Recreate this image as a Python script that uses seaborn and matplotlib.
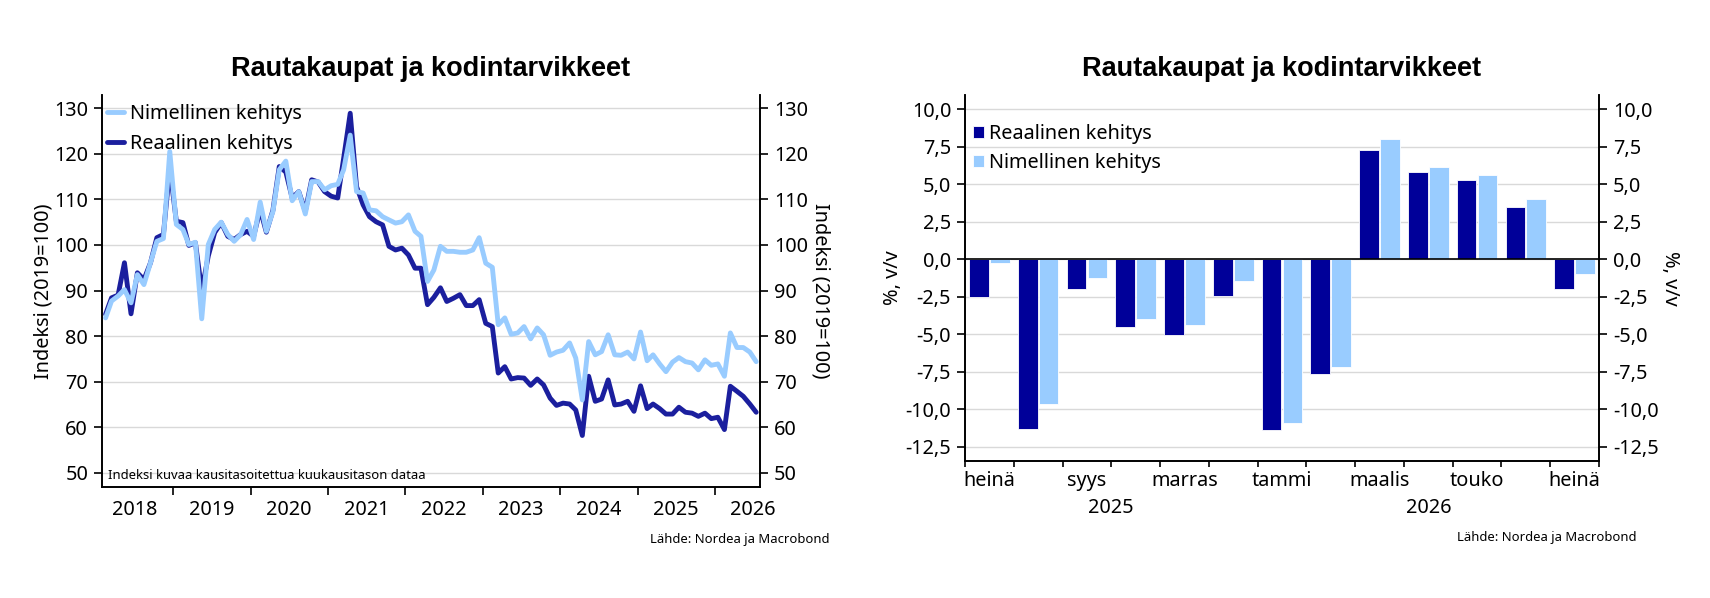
import pandas as pd
import numpy as np
import seaborn as sns
import matplotlib.pyplot as plt
import matplotlib.dates as mdates
import matplotlib.transforms as mtrans
from matplotlib.ticker import FuncFormatter

# Indeksisarjat (2019=100), helmikuu 2018 - heinäkuu 2026
nimellinen = [84.0, 87.7, 88.8, 90.2, 87.3, 93.5, 91.3, 96.1, 100.8, 101.4, 120.5,
              104.5, 103.4, 100.1, 100.6, 83.8, 100.1, 103.4, 105.0, 102.3, 100.8, 102.3, 105.6,
              101.2, 109.4, 103.0, 107.3, 116.5, 118.4, 109.7, 111.7, 106.8, 113.9, 113.9, 112.1,
              113.0, 113.3, 116.5, 124.1, 111.7, 111.4, 107.7, 107.5, 106.2, 105.5, 104.8, 105.1,
              106.6, 103.0, 101.9, 92.0, 94.5, 99.7, 98.6, 98.6, 98.4, 98.4, 98.9, 101.6,
              96.0, 95.1, 82.5, 84.0, 80.4, 80.7, 82.1, 79.4, 81.8, 80.3, 75.8, 76.5,
              76.9, 78.5, 75.2, 66.0, 78.8, 75.9, 76.6, 80.3, 75.9, 75.8, 76.5, 75.0,
              80.9, 74.6, 75.9, 73.9, 72.2, 74.3, 75.3, 74.4, 74.1, 72.6, 74.8, 73.6,
              73.9, 71.2, 80.7, 77.5, 77.5, 76.5, 74.4]
reaalinen = [84.8, 88.4, 89.0, 96.1, 84.9, 93.9, 92.4, 96.1, 101.6, 102.3, 117.0,
             105.2, 104.9, 99.9, 100.5, 90.0, 97.6, 102.7, 104.9, 101.9, 101.2, 102.3, 103.0,
             101.9, 107.8, 102.8, 107.6, 117.2, 116.0, 110.3, 111.7, 107.4, 114.3, 113.8, 111.7,
             110.7, 110.3, 119.0, 128.9, 112.8, 108.8, 106.2, 105.1, 104.4, 99.7, 98.9, 99.3,
             97.8, 94.9, 94.9, 86.9, 88.5, 90.6, 87.6, 88.3, 89.1, 86.7, 86.7, 88.0,
             82.8, 82.1, 71.9, 73.3, 70.6, 70.9, 70.8, 69.2, 70.6, 69.3, 66.4, 64.8,
             65.3, 65.1, 63.8, 58.2, 71.2, 65.7, 66.2, 70.4, 64.9, 65.1, 65.7, 63.5,
             69.1, 64.1, 65.1, 64.1, 62.9, 62.9, 64.4, 63.3, 63.1, 62.4, 63.1, 61.9,
             62.2, 59.5, 69.0, 67.9, 66.8, 65.1, 63.3]
kuukaudet = pd.date_range('2018-02-01', '2026-07-01', freq='MS') + pd.Timedelta(days=14)
vuodet = list(range(2018, 2027))

# Vuosimuutos, %, heinäkuu 2025 - heinäkuu 2026
bar_kk = ['2025-07', '2025-08', '2025-09', '2025-10', '2025-11', '2025-12', '2026-01',
          '2026-02', '2026-03', '2026-04', '2026-05', '2026-06', '2026-07']
bar_reaalinen = [-2.5, -11.3, -2.0, -4.5, -5.05, -2.45, -11.35, -7.65, 7.3, 5.8, 5.3, 3.5, -2.0]
bar_nimellinen = [-0.25, -9.65, -1.25, -3.95, -4.4, -1.45, -10.9, -7.2, 8.0, 6.15, 5.6, 4.0, -1.0]
bar_labels = ['heinä', 'syys', 'marras', 'tammi', 'maalis', 'touko', 'heinä']
bar_vuodet = ['2025', '2026']

tumma = '#1b1f9e'
tumma_bar = '#000099'
vaalea = '#99ccff'
fs = 14.3

sns.set_theme(style='white')
plt.rcParams['font.family'] = ['Noto Sans', 'DejaVu Sans']
plt.rcParams.update({'text.color': 'black', 'axes.labelcolor': 'black',
                     'xtick.color': 'black', 'ytick.color': 'black',
                     'axes.edgecolor': 'black'})

W, H = 1710, 598
fig = plt.figure(figsize=(W / 100, H / 100), dpi=100)

# ---------- vasen: indeksi ----------
ax1 = fig.add_axes([102 / W, 1 - 487 / H, 658 / W, 392 / H])
df = pd.DataFrame({'kk': kuukaudet, 'nim': nimellinen, 'rea': reaalinen})
sns.lineplot(data=df, x='kk', y='rea', color=tumma, linewidth=3.5, ax=ax1, label='Reaalinen kehitys')
sns.lineplot(data=df, x='kk', y='nim', color=vaalea, linewidth=3.5, ax=ax1, label='Nimellinen kehitys')
h, l = ax1.get_legend_handles_labels()
ax1.legend(h[::-1], l[::-1], loc='upper left', bbox_to_anchor=(0.008, 0.976), frameon=False,
           fontsize=fs, handlelength=0.85, handletextpad=0.3, labelspacing=0.5,
           borderaxespad=0, borderpad=0)

ax1.set_ylim(46.9, 132.9)
ax1.set_xlim(pd.Timestamp('2018-01-29'), pd.Timestamp('2026-08-02'))
yt = list(range(50, 131, 10))
ax1.set_yticks(yt)
ax1.grid(axis='y', color='#d9d9d9', lw=1)
ax1.set_axisbelow(True)
ax1.set_xticks(mdates.date2num([pd.Timestamp(f'{v}-01-01') for v in vuodet[1:]]))
ax1.set_xticklabels([])
ax1.set_xticks(mdates.date2num([pd.Timestamp(f'{v}-07-01') for v in vuodet]), minor=True)
ax1.set_xticklabels([str(v) for v in vuodet], minor=True)
ax1.tick_params(axis='x', which='major', bottom=True, length=6, width=1.2, direction='out')
ax1.tick_params(axis='x', which='minor', bottom=True, length=0, pad=9.5, labelsize=fs)
ax1.tick_params(axis='y', left=True, length=6, width=1.2, direction='out', pad=4, labelsize=fs)
ax1.set_xlabel('')
ax1.set_ylabel('')
ax1r = ax1.twinx()
ax1r.set_ylim(ax1.get_ylim())
ax1r.set_yticks(yt)
ax1r.tick_params(axis='y', right=True, length=6, width=1.2, direction='out', pad=4, labelsize=fs)
for a in (ax1, ax1r):
    a.spines['top'].set_visible(False)
    for s in ('left', 'right', 'bottom'):
        a.spines[s].set_linewidth(1.2)
        a.spines[s].set_color('black')
ax1.text(0.009, 0.03, 'Indeksi kuvaa kausitasoitettua kuukausitason dataa', transform=ax1.transAxes,
         fontsize=9.4, ha='left', va='center')

# ---------- oikea: vuosimuutos ----------
ax2 = fig.add_axes([965 / W, 1 - 461 / H, 634 / W, 366 / H])
bars = pd.DataFrame({'kk': bar_kk * 2,
                     'sarja': ['Reaalinen kehitys'] * len(bar_kk) + ['Nimellinen kehitys'] * len(bar_kk),
                     'arvo': bar_reaalinen + bar_nimellinen})
sns.barplot(data=bars, x='kk', y='arvo', hue='sarja', order=bar_kk,
            hue_order=['Reaalinen kehitys', 'Nimellinen kehitys'], palette=[tumma_bar, vaalea],
            saturation=1, width=0.86, gap=0.06, edgecolor='white', linewidth=0.6, ax=ax2, zorder=2)
ax2.axhline(0, color='black', lw=1.2, zorder=3)
ax2.legend(loc='upper left', bbox_to_anchor=(0.0126, 0.922), frameon=False, fontsize=fs,
           handlelength=0.55, handleheight=0.55, handletextpad=0.25, labelspacing=0.5,
           borderaxespad=0, borderpad=0)
ax2.set_xlim(-0.5, len(bar_kk) - 0.5)
ax2.set_ylim(-13.45, 10.95)
bt = np.arange(-12.5, 10.01, 2.5)
fmt = FuncFormatter(lambda v, p: f'{v:.1f}'.replace('.', ','))
ax2.set_yticks(bt)
ax2.yaxis.set_major_formatter(fmt)
ax2.grid(axis='y', color='#d9d9d9', lw=1)
ax2.set_axisbelow(True)
ax2.set_xticks(np.arange(-0.5, len(bar_kk)))
ax2.set_xticklabels([])
ax2.set_xticks(np.arange(0, len(bar_kk), 2), minor=True)
ax2.set_xticklabels(bar_labels, minor=True)
ax2.tick_params(axis='x', which='major', bottom=True, length=4, width=1.2, direction='out')
ax2.tick_params(axis='x', which='minor', bottom=True, length=0, pad=7.5, labelsize=fs)
ax2.tick_params(axis='y', left=True, length=6, width=1.2, direction='out', pad=4, labelsize=fs)
ax2.set_xlabel('')
ax2.set_ylabel('')
blend = mtrans.blended_transform_factory(ax2.transData, ax2.transAxes)
ax2.text(2.5, -0.128, bar_vuodet[0], transform=blend, ha='center', va='center', fontsize=fs)
ax2.text(9.0, -0.128, bar_vuodet[1], transform=blend, ha='center', va='center', fontsize=fs)
ax2r = ax2.twinx()
ax2r.set_ylim(ax2.get_ylim())
ax2r.set_yticks(bt)
ax2r.yaxis.set_major_formatter(fmt)
ax2r.tick_params(axis='y', right=True, length=6, width=1.2, direction='out', pad=4, labelsize=fs)
for a in (ax2, ax2r):
    a.spines['top'].set_visible(False)
    for s in ('left', 'right', 'bottom'):
        a.spines[s].set_linewidth(1.2)
        a.spines[s].set_color('black')

# ---------- tekstit ----------
otsikko = 'Rautakaupat ja kodintarvikkeet'
for cx in (431, 1282):
    fig.text(cx / W, 1 - 69 / H, otsikko, ha='center', va='center', fontsize=19.5,
             fontweight='bold', family=['Liberation Sans', 'DejaVu Sans'])
fig.text(44 / W, 1 - 291 / H, 'Indeksi (2019=100)', rotation=90, ha='center', va='center', fontsize=fs)
fig.text(820 / W, 1 - 291 / H, 'Indeksi (2019=100)', rotation=270, ha='center', va='center', fontsize=fs)
fig.text(893 / W, 1 - 278 / H, '%, v/v', rotation=90, ha='center', va='center', fontsize=fs)
fig.text(1670 / W, 1 - 278 / H, '%, v/v', rotation=270, ha='center', va='center', fontsize=fs)
fig.text(829 / W, 1 - 540 / H, 'Lähde: Nordea ja Macrobond', ha='right', va='center', fontsize=9.4)
fig.text(1636 / W, 1 - 538 / H, 'Lähde: Nordea ja Macrobond', ha='right', va='center', fontsize=9.4)

fig.savefig('out.png', dpi=100)
